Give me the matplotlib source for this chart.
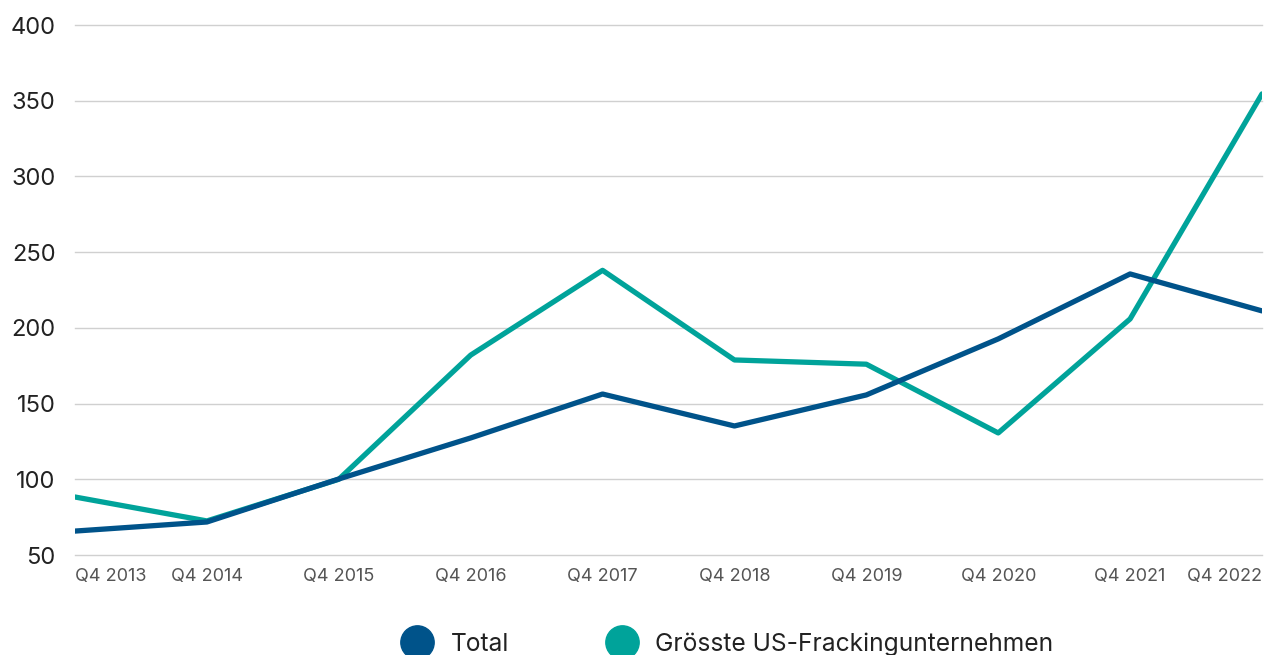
import matplotlib.pyplot as plt
from matplotlib.lines import Line2D

plt.rcParams['font.family'] = ['Inter', 'DejaVu Sans']

# Daten
quartale = ['Q4 2013', 'Q4 2014', 'Q4 2015', 'Q4 2016', 'Q4 2017',
            'Q4 2018', 'Q4 2019', 'Q4 2020', 'Q4 2021', 'Q4 2022']
total = [65.8, 71.8, 100.2, 127.3, 156.3, 135.2, 155.7, 192.7, 235.6, 211.2]
fracking = [88.3, 72.5, 100.0, 182.0, 238.0, 178.8, 176.0, 130.6, 205.9, 354.5]
namen = ['Total', 'Grösste US-Frackingunternehmen']
farben = ['#00538a', '#00a39a']
y_ticks = [50, 100, 150, 200, 250, 300, 350, 400]

fig = plt.figure(figsize=(12.65, 6.55), dpi=100, facecolor='white')
ax = fig.add_axes([75 / 1265, 100 / 655, 1187 / 1265, 530 / 655])

x = list(range(len(quartale)))
ax.plot(x, fracking, color=farben[1], lw=3.8, solid_capstyle='round', solid_joinstyle='round')
ax.plot(x, total, color=farben[0], lw=3.8, solid_capstyle='round', solid_joinstyle='round')

ax.set_xlim(0, len(quartale) - 1)
ax.set_ylim(50, 400)
ax.set_yticks(y_ticks)
ax.set_xticks(x)
ax.set_xticklabels(quartale)
labels = ax.get_xticklabels()
labels[0].set_ha('left')
labels[-1].set_ha('right')

ax.grid(axis='y', color='#d0d0d0', lw=1)
for l in ax.get_ygridlines():
    l.set_clip_on(False)
ax.set_axisbelow(True)
for s in ax.spines.values():
    s.set_visible(False)
ax.tick_params(axis='y', length=0, pad=14, labelsize=17, labelcolor='#222222')
ax.tick_params(axis='x', length=0, pad=9, labelsize=13, labelcolor='#555555')

# Legende unten
handles = [Line2D([], [], ls='none', marker='o', ms=24, color=c) for c in farben]
fig.legend(handles, namen, loc='center', bbox_to_anchor=(723 / 1265, 11 / 655),
           ncol=2, frameon=False, fontsize=17.7, handletextpad=0.35,
           columnspacing=3.6, labelcolor='#222222')

fig.savefig('out.png', dpi=100, facecolor='white')
